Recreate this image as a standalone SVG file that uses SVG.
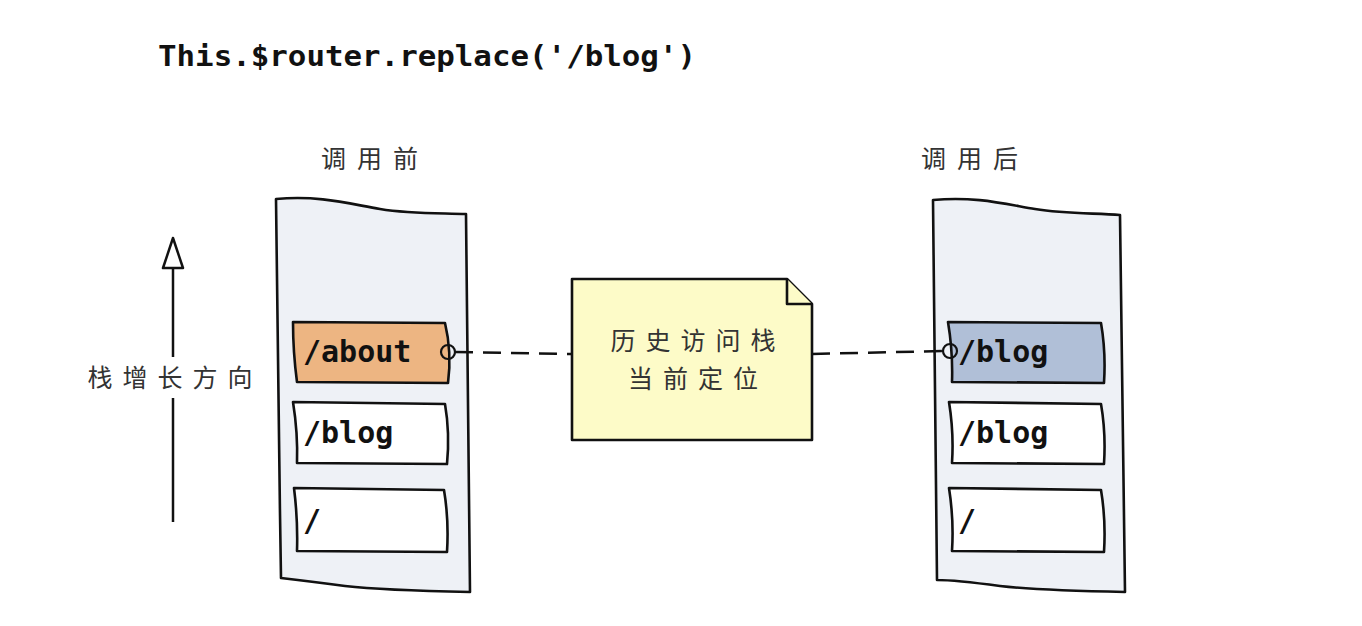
<svg xmlns="http://www.w3.org/2000/svg" width="1362" height="626" viewBox="0 0 1362 626">
<defs>
<style>
.cont{fill:#eef1f6;stroke:#111;stroke-width:2.6;stroke-linejoin:round}
.item{stroke:#111;stroke-width:2.6;stroke-linejoin:round}
.code{font-family:"DejaVu Sans Mono","Liberation Mono",monospace;font-weight:bold;fill:#111}
.hand{font-family:"Noto Sans CJK SC",sans-serif;fill:#333;font-size:25px}
.line{stroke:#111;stroke-width:2.5;fill:none}
.dash{stroke:#111;stroke-width:2.5;fill:none;stroke-dasharray:18 10}
</style>
</defs>
<rect width="1362" height="626" fill="#fff"/>
<text class="code" x="158" y="66" font-size="28" textLength="538" lengthAdjust="spacingAndGlyphs">This.$router.replace('/blog')</text>

<g id="before">
<text class="hand" x="375" y="168" text-anchor="middle" letter-spacing="11">调用前</text>
<path class="cont" d="M276,199 C320,195 350,204 380,209 C410,214 440,213 466,214 L470,592 C420,591 380,590 345,586 C315,582 298,580 281,578 C279,450 277,320 276,199 Z"/>
</g>
<g id="before-about">
<path class="item" fill="#edb582" d="M293,322 L445,323 Q452,352 448,383 L297,382 Q293,352 293,322 Z"/>
<text class="code" x="303" y="362" font-size="30">/about</text>
</g>
<g id="before-blog">
<path class="item" fill="#fff" d="M293,402 L445,404 Q450,433 447,464 L297,463 Q298,433 293,402 Z"/>
<text class="code" x="303" y="443" font-size="30">/blog</text>
</g>
<g id="before-root">
<path class="item" fill="#fff" d="M294,488 L444,490 Q449,520 447,552 L297,551 Q298,520 294,488 Z"/>
<text class="code" x="303" y="531" font-size="30">/</text>
</g>

<g id="after">
<text class="hand" x="975" y="168" text-anchor="middle" letter-spacing="11">调用后</text>
<path class="cont" d="M933,200 C975,196 1005,204 1035,209 C1065,214 1095,213 1120,215 L1125,592 C1075,591 1035,590 1000,586 C970,582 952,580 937,580 C935,450 934,320 933,200 Z"/>
</g>
<g id="after-blog-current">
<path class="item" fill="#b0bfd7" d="M948,322 L1101,323 Q1106,352 1104,383 L952,382 Q953,352 948,322 Z"/>
<text class="code" x="958" y="362" font-size="30">/blog</text>
</g>
<g id="after-blog">
<path class="item" fill="#fff" d="M949,402 L1101,404 Q1106,433 1104,464 L952,463 Q954,433 949,402 Z"/>
<text class="code" x="958" y="443" font-size="30">/blog</text>
</g>
<g id="after-root">
<path class="item" fill="#fff" d="M949,488 L1101,490 Q1106,520 1104,552 L952,551 Q954,520 949,488 Z"/>
<text class="code" x="958" y="531" font-size="30">/</text>
</g>

<g id="note">
<path class="item" fill="#fdfbc8" d="M572,279 L787,279 L812,304 L812,440 L572,440 Z"/>
<path class="item" fill="#fdfbc8" d="M787,279 L787,304 L812,304"/>
<text class="hand" x="698" y="350" text-anchor="middle" letter-spacing="10">历史访问栈</text>
<text class="hand" x="698" y="388" text-anchor="middle" letter-spacing="10">当前定位</text>
</g>

<g id="growth">
<text class="hand" x="175" y="387" text-anchor="middle" letter-spacing="10">栈增长方向</text>
</g>

<g id="connectors">
<path class="dash" d="M455,352 L572,354"/>
<circle cx="448" cy="352" r="7" fill="none" stroke="#111" stroke-width="2.2"/>
<path class="dash" d="M812,354 L943,351"/>
<circle cx="950" cy="351" r="7" fill="none" stroke="#111" stroke-width="2.2"/>
<path class="line" d="M173,522 L173,398"/>
<path class="line" d="M173,357 L173,268"/>
<path fill="#fff" stroke="#111" stroke-width="2.5" stroke-linejoin="round" d="M163,268 L183,268 L173,238 Z"/>
</g>
</svg>
